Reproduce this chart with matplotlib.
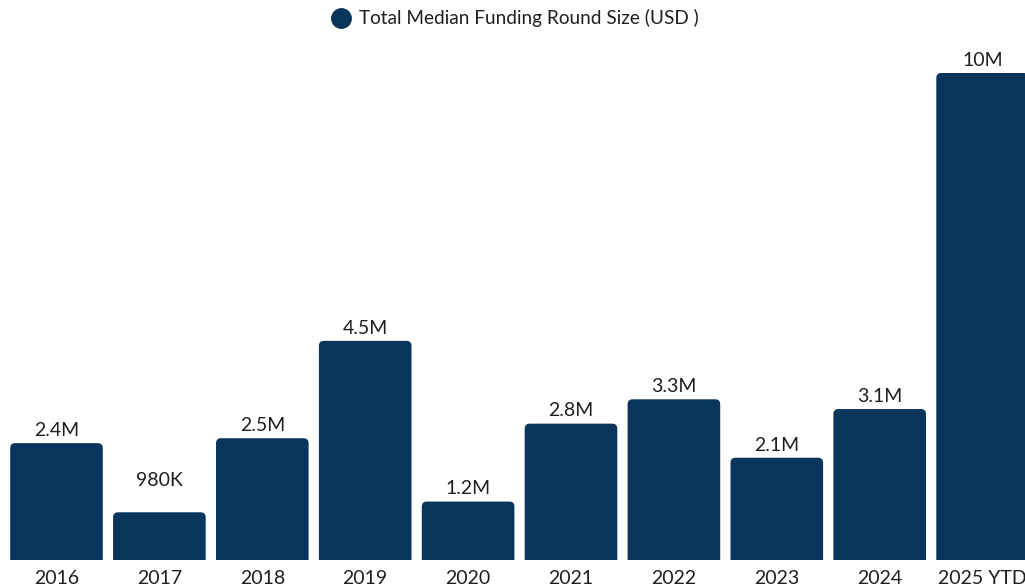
import matplotlib
matplotlib.use('Agg')
import matplotlib.pyplot as plt
from matplotlib.patches import FancyBboxPatch
from matplotlib.lines import Line2D

plt.rcParams['font.family'] = ['Lato', 'DejaVu Sans']

years = ['2016', '2017', '2018', '2019', '2020', '2021', '2022', '2023', '2024', '2025 YTD']
median_round = [2.4, 0.98, 2.5, 4.5, 1.2, 2.8, 3.3, 2.1, 3.1, 10.0]  # millions USD
labels = ['2.4M', '980K', '2.5M', '4.5M', '1.2M', '2.8M', '3.3M', '2.1M', '3.1M', '10M']

navy = '#09355d'
text_color = '#1f1f1f'

fig = plt.figure(figsize=(10.25, 5.88), dpi=100)
ax = fig.add_axes([0, 28 / 588, 1, 560 / 588])

px_x = 102.9   # pixels per category
px_y = 48.7    # pixels per million
ax.set_xlim(-56.5 / px_x, (1025 - 56.5) / px_x)
ax.set_ylim(0, 560 / px_y)

bar_w = 0.9
r_x = 5 / px_x
aspect = (5 / px_y) / r_x
for i, v in enumerate(median_round):
    # extend below zero so only the top corners show rounding
    box = FancyBboxPatch((i - bar_w / 2, -1), bar_w, v + 1,
                         boxstyle=f'round,pad=0,rounding_size={r_x}',
                         mutation_aspect=aspect, facecolor=navy,
                         edgecolor='none')
    ax.add_patch(box)
    extra = 14 if labels[i] == '980K' else 0
    ax.annotate(labels[i], (i, v), xytext=(0, 3 + extra), textcoords='offset points',
                ha='center', va='bottom', fontsize=14, color=text_color)

ax.set_xticks(range(len(years)))
ax.set_xticklabels(years, fontsize=14, color=text_color)
ax.tick_params(axis='x', length=0, pad=7.5)
ax.set_yticks([])
for s in ax.spines.values():
    s.set_visible(False)

# legend
fig.add_artist(Line2D([341 / 1025], [1 - 18 / 588], marker='o', markersize=14,
                      color=navy, linestyle='none', transform=fig.transFigure))
fig.text(359 / 1025, 1 - 18 / 588, 'Total Median Funding Round Size (USD )',
         fontsize=13.7, color=text_color, va='center', ha='left')

fig.savefig('out.png', dpi=100)
